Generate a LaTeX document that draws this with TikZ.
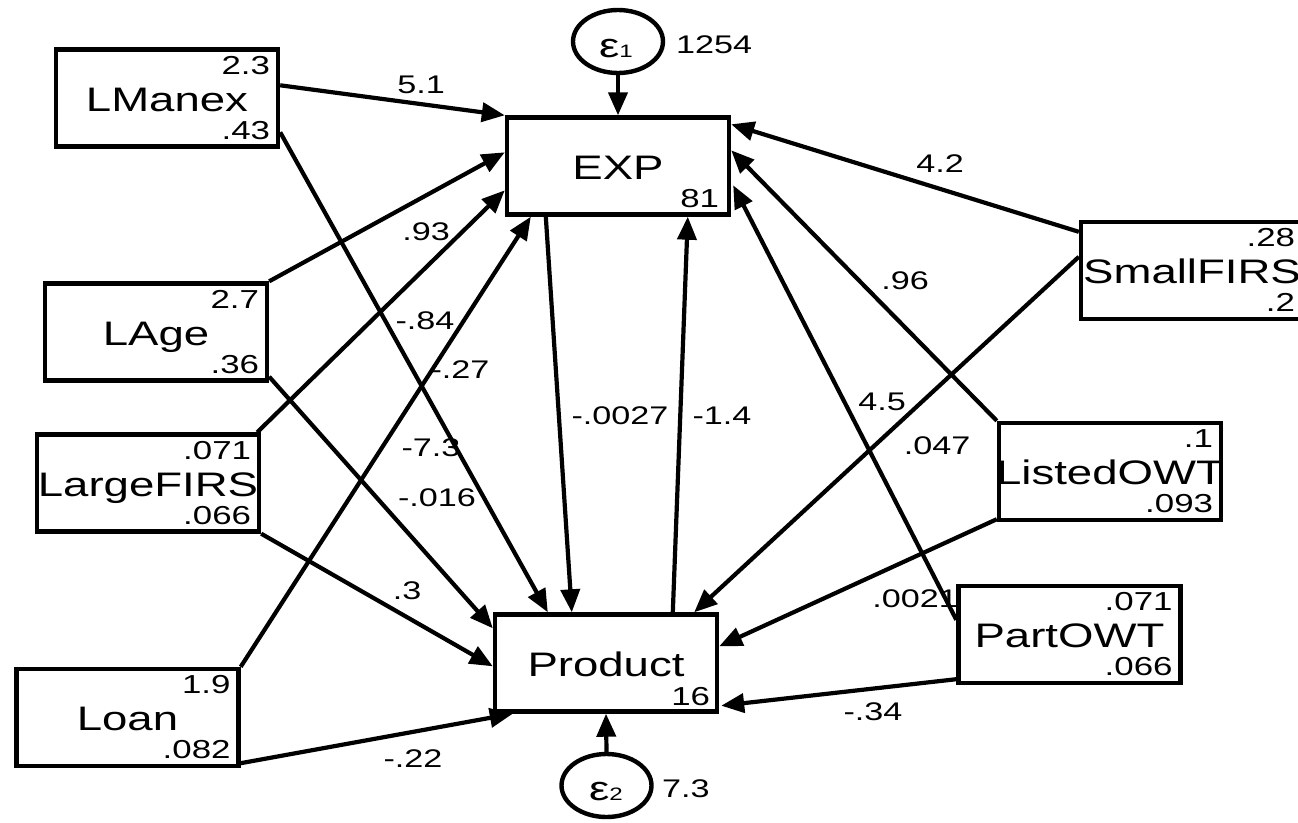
\documentclass[tikz,border=0pt]{standalone}
\usepackage{fontspec}
\setmainfont{Liberation Sans}[FakeStretch=1.34]
\usetikzlibrary{shapes.geometric,arrows.meta,calc}

\tikzset{
  obs/.style={draw, line width=4.4pt, rectangle, minimum width=222pt, minimum height=97pt, inner sep=0pt},
  lat/.style={draw, line width=4.4pt, ellipse, minimum width=90pt, minimum height=63pt, inner sep=0pt},
  varname/.style={font=\fontsize{34}{34}\selectfont, inner sep=0pt, anchor=base},
  boxnum/.style={font=\fontsize{26}{26}\selectfont, inner sep=0pt, anchor=base east},
  coef/.style={font=\fontsize{25.5}{25.5}\selectfont, inner sep=0pt},
  varlabel/.style={font=\fontsize{25.5}{25.5}\selectfont, inner sep=0pt, anchor=base west},
  sempath/.style={line width=4.2pt, -{Triangle[length=23pt,width=19pt]}},
}

% observed exogenous variable: name, centre, label, mean, variance
\newcommand\obsvar[5]{%
  \node[obs] (#1) at (#2) {};
  \node[varname] (#1-name) at ($(#1.center)+(0,13)$) {#3};
  \node[boxnum] (#1-top) at ($(#1.north east)+(-10,27)$) {#4};
  \node[boxnum] (#1-bot) at ($(#1.south east)+(-10,-9.5)$) {#5};
}

\begin{document}
\begin{tikzpicture}[x=1pt, y=-1pt]
\useasboundingbox (0,0) rectangle (1298,822);
\clip (0,0) rectangle (1298,822);

% endogenous variables
\node[obs] (exp) at (618,166) {};
\node[varname] (exp-name) at ($(exp.center)+(0,13)$) {EXP};
\node[boxnum] (exp-bot) at ($(exp.south east)+(-12,-9.5)$) {81};

\node[obs] (product) at (606,663) {};
\node[varname] (product-name) at ($(product.center)+(0,13)$) {Product};
\node[boxnum] (product-bot) at ($(product.south east)+(-9,-8.5)$) {16};

% error terms
\node[lat] (e1) at (618,41.5) {};
\node[varname] (e1-t) at (616,57) {ε\fontsize{18}{18}\selectfont 1};
\node[varlabel] (e1-v) at (676,53) {1254};

\node[lat] (e2) at (606.5,785.5) {};
\node[varname] (e2-t) at (606,800) {ε\fontsize{18}{18}\selectfont 2};
\node[varlabel] (e2-v) at (662,797) {7.3};

% exogenous variables
\obsvar{lmanex}{167,98}{LManex}{2.3}{.43}
\obsvar{lage}{156,332}{LAge}{2.7}{.36}
\obsvar{largefirs}{148,483}{LargeFIRS}{.071}{.066}
\obsvar{loan}{127.5,717.5}{Loan}{1.9}{.082}
\obsvar{smallfirs}{1192,270.5}{SmallFIRS}{.28}{.2}
\obsvar{listedowt}{1110,471.5}{ListedOWT}{.1}{.093}
\obsvar{partowt}{1069.5,634.5}{PartOWT}{.071}{.066}

% paths
\draw[sempath] ($(lmanex.north east)+(0,38)$) -- (exp.north west);
\draw[sempath] ($(lmanex.north east)+(0,85)$) -- ($(product.north west)+(55,0)$);
\draw[sempath] (lage.north east) -- ($(exp.north west)+(0,37)$);
\draw[sempath] ($(lage.south east)+(0,-6)$) -- ($(product.north west)+(0,16)$);
\draw[sempath] ($(largefirs.north east)+(-4,0)$) -- ($(exp.north west)+(0,75)$);
\draw[sempath] (largefirs.south east) -- ($(product.north west)+(0,54)$);
\draw[sempath] (loan.north east) -- ($(exp.south west)+(26,0)$);
\draw[sempath] ($(loan.south east)+(0,-5)$) -- ($(product.south west)+(20,0)$);
\draw[sempath] ($(exp.south west)+(41,0)$) -- ($(product.north west)+(79,0)$);
\draw[sempath] ($(product.north west)+(180,0)$) -- ($(exp.south west)+(183,0)$);
\draw[sempath] ($(smallfirs.north west)+(0,12)$) -- ($(exp.north east)+(0,9)$);
\draw[sempath] ($(smallfirs.north west)+(0,37)$) -- ($(product.north east)+(-25,0)$);
\draw[sempath] (listedowt.north west) -- ($(exp.north east)+(0,35)$);
\draw[sempath] ($(listedowt.south west)+(0,-3)$) -- ($(product.north east)+(0,34)$);
\draw[sempath] ($(partowt.north west)+(0,36)$) -- ($(exp.north east)+(2,70)$);
\draw[sempath] ($(partowt.south west)+(0,-6)$) -- ($(product.south east)+(2,-8)$);
\draw[sempath] (e1.south) -- (exp.north);
\draw[sempath] (e2.north) -- (product.south);

% path coefficients
\node[coef] (c1) at (421,85) {5.1};
\node[coef] (c2) at (426,232) {.93};
\node[coef] (c3) at (425,321) {-.84};
\node[coef] (c4) at (460,370) {-.27};
\node[coef] (c5) at (431,448) {-7.3};
\node[coef] (c6) at (437,498) {-.016};
\node[coef] (c7) at (407,591) {.3};
\node[coef] (c8) at (413,759) {-.22};
\node[coef] (c9) at (620,416) {-.0027};
\node[coef] (c10) at (722,416) {-1.4};
\node[coef] (c11) at (940,164) {4.2};
\node[coef] (c12) at (905,281) {.96};
\node[coef] (c13) at (882,402) {4.5};
\node[coef] (c14) at (937,446) {.047};
\node[coef] (c15) at (915,599) {.0021};
\node[coef] (c16) at (873,712) {-.34};
\end{tikzpicture}
\end{document}
